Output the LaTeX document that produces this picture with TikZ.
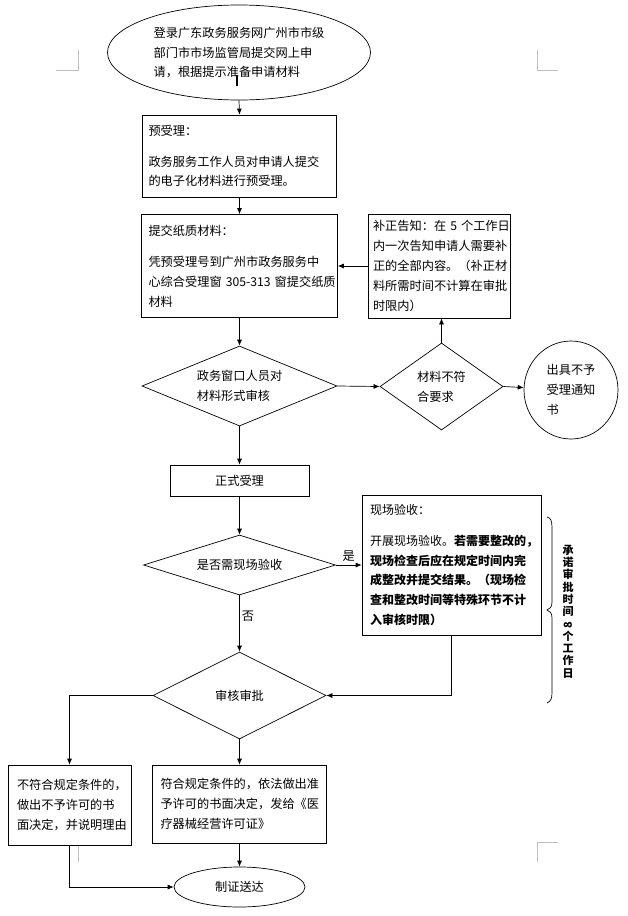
\documentclass[tikz,border=0pt]{standalone}
\usepackage{fontspec}
\usepackage{graphicx}
\newfontfamily\cjk{Noto Sans CJK SC}
\usetikzlibrary{shapes.geometric,arrows.meta}
\begin{document}
\begin{tikzpicture}[x=1pt,y=-1pt,
  font=\cjk\fontsize{12.2pt}{19.8pt}\selectfont,
  every node/.style={inner sep=0pt},
  box/.style={draw, rectangle, line width=0.7pt, align=left},
  dia/.style={draw, diamond, line width=0.7pt, align=left},
  ell/.style={draw, ellipse, line width=0.7pt, align=left},
  arr/.style={-{Latex[length=6pt,width=5pt]}, line width=0.7pt},
  ln/.style={line width=0.7pt},
  cornermark/.style={draw=black!25, line width=0.8pt}]
\useasboundingbox (0,0) rectangle (627,916);
% page corner marks
\draw[cornermark] (56,70) -- (78,70) -- (78,50);
\draw[cornermark] (558,70) -- (537,70) -- (537,50);
\draw[cornermark] (56,845) -- (78,845) -- (78,862);
\draw[cornermark] (558,842) -- (537,842) -- (537,862);

% nodes
\node[ell, minimum width=263pt, minimum height=95pt] (start) at (239,52.5)
  {登录广东政务服务网广州市市级\\部门市市场监管局提交网上申\\请，根据提示准备申请材料};
\draw[line width=1.6pt] (237,75) -- (237,86);

\node[box, inner xsep=6pt, text width=182pt, minimum width=194pt, minimum height=82pt] (b1) at (239.5,156)
  {预受理：\\[11pt]政务服务工作人员对申请人提交\\的电子化材料进行预受理。};

\node[box, inner xsep=7pt, text width=182pt, minimum width=196pt, minimum height=103pt] (b2) at (239.5,266)
  {提交纸质材料：\\[12pt]凭预受理号到广州市政务服务中\\\mbox{心综合受理窗~305-313~窗提交纸质}\\材料};

\node[box, inner xsep=5pt, text width=132pt, minimum width=142pt, minimum height=104pt] (fix) at (439,266)
  {补正告知：在~5~个工作日\\内一次告知申请人需要补\\正的全部内容。（补正材\\料所需时间不计算在审批\\时限内）};

\node[dia, aspect=2.44, minimum width=195pt, minimum height=80pt] (d1) at (239.5,386)
  {政务窗口人员对\\材料形式审核};

\node[dia, aspect=1.41, minimum width=123pt, minimum height=87pt] (d2) at (441.5,386.5)
  {材料不符\\合要求};

\node[ell, minimum width=94pt, minimum height=98pt] (circ) at (571,390)
  {出具不予\\受理通知\\书};

\node[box, align=center, minimum width=139pt, minimum height=31pt] (b3) at (239.5,480.5) {正式受理};

\node[dia, aspect=3.2, minimum width=192pt, minimum height=60pt] (d3) at (239.5,565) {是否需现场验收};

\node[box, inner xsep=8pt, text width=163pt, minimum width=179pt, minimum height=140pt,
  font=\cjk\fontsize{12pt}{19.8pt}\selectfont] (b4) at (451.5,565)
  {现场验收：\\[11pt]开展现场验收。\textbf{若需要整改的，}\\\textbf{现场检查后应在规定时间内完}\\\textbf{成整改并提交结果。（现场检}\\\textbf{查和整改时间等特殊环节不计}\\\textbf{入审核时限）}};

\node[dia, aspect=2, minimum width=173pt, minimum height=87pt] (d4) at (239.5,695.5) {审核审批};

\node[box, inner xsep=9pt, text width=105pt, minimum width=123pt, minimum height=80pt] (b5) at (69.5,805)
  {不符合规定条件的，\\做出不予许可的书\\面决定，并说明理由};

\node[box, inner xsep=8pt, text width=158pt, minimum width=174pt, minimum height=78pt] (b6) at (239.5,804)
  {符合规定条件的，依法做出准\\予许可的书面决定，发给《医\\疗器械经营许可证》};

\node[ell, align=center, minimum width=131pt, minimum height=40pt] (end) at (239.5,887) {制证送达};

% brace and promise text
\draw[ln] (547,517) .. controls (551,518) and (552,521) .. (552,528) -- (552,602)
  .. controls (552,607) and (550,609) .. (547,610)
  .. controls (550,611) and (552,613) .. (552,618) -- (552,692)
  .. controls (552,699) and (551,701) .. (547,703);
\node[align=center, font=\cjk\bfseries\fontsize{11pt}{12.3pt}\selectfont] (promise) at (568,611.5)
  {承\\诺\\审\\批\\时\\间\\\rotatebox{90}{8}\\个\\工\\作\\日};

% connectors
\draw[arr] (start.south) -- (b1.north);
\draw[arr] (b1.south) -- (b2.north);
\draw[arr] (b2.south) -- (d1.north);
\draw[arr] (d1.east) -- (d2.west);
\draw[arr] (d2.north) -- (d2.north |- fix.south);
\draw[arr] (fix.west) -- (b2.east);
\draw[arr] (d2.east) -- (circ);
\draw[arr] (d1.south) -- (b3.north);
\draw[arr] (b3.south) -- (d3.north);
\draw[arr] (d3.east) -- node[above=3pt] (yes) {是} (b4.west);
\draw[arr] (d3.south) -- node[pos=0.37, right=2pt] (no) {否} (d4.north);
\draw[arr] (b4.south) |- (d4.east);
\draw[arr] (d4.west) -| (b5.north);
\draw[arr] (d4.south) -- (b6.north);
\draw[arr] (b6.south) -- (end.north);
\draw[arr] (b5.south) |- (end.west);
\end{tikzpicture}
\end{document}
